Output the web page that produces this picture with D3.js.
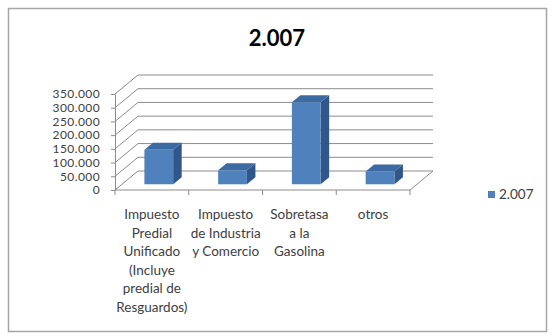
<!DOCTYPE html>
<html>
<head>
<meta charset="utf-8">
<script src="https://cdn.jsdelivr.net/npm/d3@7"></script>
<style>
  body { margin: 0; background: #fff; }
  text { font-family: Lato, "Open Sans", sans-serif; }
</style>
</head>
<body>
<div id="chart"></div>
<script>
//DATA
let categories = [
  ["Impuesto", "Predial", "Unificado", "(Incluye", "predial de", "Resguardos)"],
  ["Impuesto", "de Industria", "y Comercio"],
  ["Sobretasa", "a la", "Gasolina"],
  ["otros"]
];
let values2007 = [126000, 51000, 299000, 47000];
let yTicks = [0, 50000, 100000, 150000, 200000, 250000, 300000, 350000];
let seriesName = "2.007";
let title = "2.007";

//DIMENSIONS
let WIDTH = 554, HEIGHT = 336;
let FRONT = { left: 115, right: 410, base: 190 };
let DEPTH = { dx: 23, dy: -19 };

let svg = d3.select("#chart").append("svg")
  .attr("width", WIDTH).attr("height", HEIGHT);

//border
svg.append("rect")
  .attr("x", 8.5).attr("y", 8.5)
  .attr("width", 538).attr("height", 323)
  .attr("fill", "#fff").attr("stroke", "#a6a6a6").attr("stroke-width", 1.5);

//title
svg.append("text")
  .attr("x", 277).attr("y", 46)
  .attr("text-anchor", "middle")
  .style("font-size", "22px").style("font-weight", "bold")
  .attr("fill", "#000")
  .text(title);

//SCALES
let yScale = d3.scaleLinear().domain([0, 350000]).range([FRONT.base, FRONT.base - 96]);
let xScale = d3.scaleBand()
  .domain(d3.range(categories.length))
  .range([FRONT.left, FRONT.right]);

//project a front point back by depth fraction
function P(x, y, d) {
  return [x + DEPTH.dx * d, y + DEPTH.dy * d];
}

let grid = svg.append("g").attr("stroke", "#8c8c8c").attr("stroke-width", 1).attr("fill", "none");

//left wall diagonals + back wall gridlines
yTicks.forEach((t) => {
  let y = yScale(t);
  let a = P(FRONT.left, y, 0), b = P(FRONT.left, y, 1), c = P(FRONT.right, y, 1);
  grid.append("path").attr("d", d3.line()([a, b, c]));
});

//floor
let f0 = P(FRONT.left, FRONT.base, 0), f1 = P(FRONT.right, FRONT.base, 0), f2 = P(FRONT.right, FRONT.base, 1);
grid.append("path").attr("d", d3.line()([f0, f1, f2]));

//y axis
let fmt = d3.formatLocale({ decimal: ",", thousands: ".", grouping: [3], currency: ["", ""] }).format(",");
let yAxis = svg.append("g")
  .attr("transform", `translate(${FRONT.left},0)`)
  .call(d3.axisLeft(yScale).tickValues(yTicks).tickFormat(fmt).tickSize(4).tickPadding(11).tickSizeOuter(0));
yAxis.select(".domain").attr("stroke", "#8c8c8c");
yAxis.selectAll(".tick line").attr("stroke", "#8c8c8c");
yAxis.selectAll(".tick text")
  .attr("fill", "#404040")
  .style("font-size", "12px")
  .style("letter-spacing", "0.4px")
  .style("font-family", "Lato, sans-serif");

//x ticks
let xTicks = d3.range(categories.length + 1).map((i) =>
  i < categories.length ? xScale(i) : FRONT.right);
svg.append("g").selectAll("line")
  .data(xTicks)
  .enter()
  .append("line")
  .attr("x1", (d) => d).attr("x2", (d) => d)
  .attr("y1", FRONT.base).attr("y2", FRONT.base + 5)
  .attr("stroke", "#8c8c8c");

//BARS
let barW = xScale.bandwidth() * 0.39;
let d0 = 0.3, d1 = 0.67;
let bars = svg.append("g").selectAll("g")
  .data(values2007)
  .enter()
  .append("g");

bars.each(function (v, i) {
  let g = d3.select(this);
  let xl = xScale(i) + (xScale.bandwidth() - barW) / 2;
  let xr = xl + barW;
  let yb = yScale(0), yt = yScale(v);
  let line = d3.line();
  //side face
  g.append("path")
    .attr("d", line([P(xr, yb, d0), P(xr, yb, d1), P(xr, yt, d1), P(xr, yt, d0)]) + "Z")
    .attr("fill", "#31578a");
  //top face
  g.append("path")
    .attr("d", line([P(xl, yt, d0), P(xr, yt, d0), P(xr, yt, d1), P(xl, yt, d1)]) + "Z")
    .attr("fill", "#3d6aa3");
  //front face
  g.append("path")
    .attr("d", line([P(xl, yb, d0), P(xr, yb, d0), P(xr, yt, d0), P(xl, yt, d0)]) + "Z")
    .attr("fill", "#4f81bd");
});

//category labels
let labels = svg.append("g").selectAll("text")
  .data(categories)
  .enter()
  .append("text")
  .attr("text-anchor", "middle")
  .attr("fill", "#404040")
  .style("font-size", "13.5px");

labels.selectAll("tspan")
  .data((d, i) => d.map((s) => ({ s: s, i: i })))
  .enter()
  .append("tspan")
  .attr("x", (d) => xScale(d.i) + xScale.bandwidth() / 2)
  .attr("y", (d, j) => 219 + j * 18.6)
  .text((d) => d.s);

//legend
let legend = svg.append("g").attr("transform", "translate(488,191)");
legend.append("rect")
  .attr("width", 7).attr("height", 7)
  .attr("fill", "#4f81bd");
legend.append("text")
  .attr("x", 11).attr("y", 8)
  .attr("fill", "#404040")
  .style("font-size", "13.5px")
  .text(seriesName);
</script>
</body>
</html>
